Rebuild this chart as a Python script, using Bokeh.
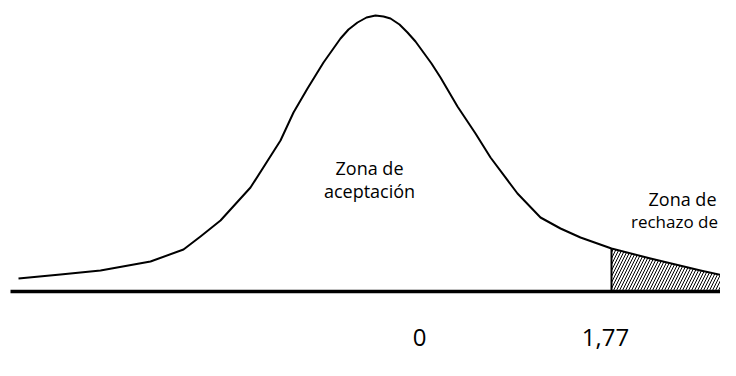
from bokeh.plotting import figure
from bokeh.models import Range1d
from bokeh.core.properties import value
from bokeh.embed import file_html
from bokeh.resources import INLINE

# Hand-drawn bell curve (x in px-units, height above baseline)
curve_x = [18, 60, 100, 150, 183, 200, 220, 250, 280, 293, 307, 323, 340, 348, 357, 366,
           375, 383, 390, 399, 407, 415, 423, 431, 440, 457, 475, 490, 517, 540, 560,
           580, 611, 650, 700, 736]
curve_y = [13, 17, 21, 30, 42, 55, 71, 104, 151, 179, 203, 229, 253, 262, 269, 274,
           276, 275, 273, 267, 259, 250, 239, 228, 214, 185, 158, 134, 98, 74, 63,
           54, 43, 33, 21, 13]

critical_x = 611          # start of rejection region
axis_start, axis_end = 10, 736
tick_labels = ["0", "1,77"]
tick_pos = [419, 605]

zone_title = ["Zona de", "Zona de"]
zone_title_x = [369, 682]
zone_title_y = [124, 93]
zone_sub = ["aceptación", "rechazo de"]
zone_sub_x = [369, 674]
zone_sub_y = [101, 70]

FONT = "Open Sans"

p = figure(width=720, height=360, output_backend="svg", toolbar_location=None,
           x_range=Range1d(0, 720), y_range=Range1d(-69, 291),
           x_axis_location=None, y_axis_location=None, min_border=0)
p.grid.visible = False
p.outline_line_color = None
p.background_fill_color = "white"
p.border_fill_color = "white"

# rejection region (hatched)
rx = [critical_x] + [x for x in curve_x if x >= critical_x] + [curve_x[-1]]
ry = [0] + [y for x, y in zip(curve_x, curve_y) if x >= critical_x] + [0]
p.patch(rx, ry, fill_color="white", hatch_pattern="/", hatch_color="black",
        hatch_scale=6, hatch_weight=1, line_color=None)
p.line([critical_x, critical_x], [0, curve_y[curve_x.index(critical_x)]],
       line_color="black", line_width=2)

# curve
p.line(curve_x, curve_y, line_color="black", line_width=2, line_join="round")

# baseline
p.line([axis_start, axis_end], [0, 0], line_color="black", line_width=3.5)

# zone labels
p.text(zone_title_x, zone_title_y, text=zone_title, text_font=value(FONT),
       text_font_size="18px", text_align="center", text_baseline="alphabetic",
       text_color="#000000")
p.text(zone_sub_x[:1], zone_sub_y[:1], text=zone_sub[:1], text_font=value(FONT),
       text_font_size="18px", text_align="center", text_baseline="alphabetic",
       text_color="#000000")
p.text(zone_sub_x[1:], zone_sub_y[1:], text=zone_sub[1:], text_font=value(FONT),
       text_font_size="17px", text_align="center", text_baseline="alphabetic",
       text_color="#000000")

# tick labels
p.text(tick_pos, [-46, -46], text=tick_labels, text_font=value(FONT),
       text_font_size="24px", text_align="center", text_baseline="alphabetic",
       text_color="#000000")

open("out.html", "w").write(file_html(p, INLINE))
